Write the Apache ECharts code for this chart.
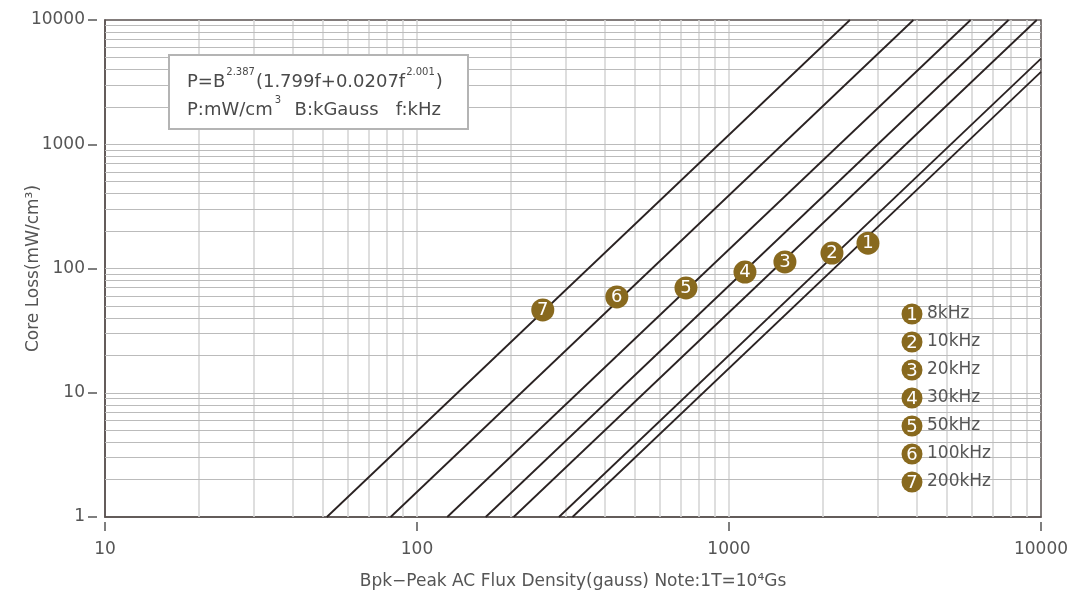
<!DOCTYPE html>
<html>
<head>
<meta charset="utf-8">
<script src="https://cdn.jsdelivr.net/npm/echarts@6/dist/echarts.min.js"></script>
<style>
html,body{margin:0;padding:0;background:#fff;}
#main{width:1071px;height:598px;}
</style>
</head>
<body>
<div id="main"></div>
<script>
// ---- data ----
const freqLabels = ['8kHz','10kHz','20kHz','30kHz','50kHz','100kHz','200kHz'];
const markerNums = ['1','2','3','4','5','6','7'];
// each loss line: start point (bottom edge, P = 1) and end point (right or top edge)
const lineStartB = [315, 285, 204, 166, 125, 82.3, 51.4];
const lineStartP = [1, 1, 1, 1, 1, 1, 1];
const lineEndB   = [10000, 10000, 9690, 7870, 5950, 3900, 2440];
const lineEndP   = [3830, 4890, 10000, 10000, 10000, 10000, 10000];
// numbered markers on the lines
const markerB = [2789, 2138, 1511, 1125, 728, 437, 253];
const markerP = [160, 133, 113, 93.7, 69.7, 59.0, 46.4];
// axes
const xTicks = [10, 100, 1000, 10000];
const yTicks = [1, 10, 100, 1000, 10000];
const gridMult = [2, 3, 4, 5, 6, 7, 8, 9];

const MARK = '#88691e';
const LINE = '#2a2222';
const TXT = '#555555';
const FONT = '"DejaVu Sans", "Liberation Sans", Arial, sans-serif';

function gridVals(ticks) {
  const out = [];
  for (let i = 0; i < ticks.length - 1; i++) {
    if (i > 0) out.push(ticks[i]);
    gridMult.forEach(m => out.push(ticks[i] * m));
  }
  return out;
}
const xGrid = gridVals(xTicks);
const yGrid = gridVals(yTicks);

const chart = echarts.init(document.getElementById('main'), null, {renderer: 'canvas'});

const series = [];
series.push({
  type: 'line', data: [[10, 1]], showSymbol: false, symbol: 'none', silent: true, z: 1,
  lineStyle: {opacity: 0},
  markLine: {
    silent: true, symbol: 'none', animation: false, z: 1,
    label: {show: false},
    data: xGrid.map(v => ({xAxis: v, lineStyle: {color: '#d6d6d6', width: 1.6, type: 'solid'}}))
      .concat(yGrid.map(v => ({yAxis: v, lineStyle: {color: '#bbbbbb', width: 1, type: 'solid'}})))
  }
});
for (let i = 0; i < freqLabels.length; i++) {
  series.push({
    type: 'line', name: freqLabels[i], z: 6, symbol: 'none', silent: true,
    data: [[lineStartB[i], lineStartP[i]], [lineEndB[i], lineEndP[i]]],
    lineStyle: {color: LINE, width: 1.8}
  });
}
series.push({
  type: 'scatter', z: 8, symbol: 'circle', symbolSize: 23, silent: true,
  itemStyle: {color: MARK, opacity: 1},
  data: markerB.map((b, i) => [b, markerP[i], markerNums[i]]),
  label: {
    show: true, position: 'inside', color: '#fff', fontSize: 18, fontFamily: FONT,
    formatter: p => p.value[2]
  }
});

const graphic = [{
  type: 'rect', z: 100, shape: {x: 169, y: 55, width: 299, height: 74},
  style: {fill: '#fff', stroke: '#b4b4b4', lineWidth: 2}
}, {
  type: 'text', z: 101, x: 187, y: 67,
  style: {
    text: '{n|P=B}{s|2.387}{n|(1.799f+0.0207f}{s|2.001}{n|)}',
    rich: {
      n: {fontSize: 18, fill: '#4a4a4a', fontFamily: FONT, lineHeight: 24, verticalAlign: 'bottom'},
      s: {fontSize: 10, fill: '#4a4a4a', fontFamily: FONT, lineHeight: 24, verticalAlign: 'top', padding: [0, 1, 0, 1]}
    }
  }
}, {
  type: 'text', z: 101, x: 187, y: 95,
  style: {
    text: '{n|P:mW/cm}{s|3}{n|  B:kGauss   f:kHz}',
    rich: {
      n: {fontSize: 18, fill: '#4a4a4a', fontFamily: FONT, lineHeight: 24, verticalAlign: 'bottom'},
      s: {fontSize: 10, fill: '#4a4a4a', fontFamily: FONT, lineHeight: 24, verticalAlign: 'top', padding: [0, 2, 0, 2]}
    }
  }
}];
freqLabels.forEach((f, i) => {
  const cy = 314 + 28 * i;
  graphic.push({type: 'circle', z: 100, shape: {cx: 912, cy: cy, r: 10.5}, style: {fill: MARK}});
  graphic.push({type: 'text', z: 101, x: 912, y: cy + 1,
    style: {text: markerNums[i], fill: '#fff', fontSize: 18, fontFamily: FONT, align: 'center', verticalAlign: 'middle'}});
  graphic.push({type: 'text', z: 101, x: 927, y: cy,
    style: {text: f, fill: TXT, fontSize: 17, fontFamily: FONT, align: 'left', verticalAlign: 'middle'}});
});

const option = {
  animation: false,
  backgroundColor: '#fff',
  grid: {left: 105, right: 30, top: 20, bottom: 81, show: true, borderColor: '#5a5250', borderWidth: 1.5,
         backgroundColor: 'transparent', containLabel: false, outerBoundsMode: 'none'},
  xAxis: [{
    type: 'log', logBase: 10, min: 10, max: 10000,
    name: 'Bpk\u2212Peak AC Flux Density(gauss) Note:1T=10\u2074Gs',
    nameLocation: 'middle', nameGap: 56,
    nameTextStyle: {color: TXT, fontSize: 17, fontFamily: FONT},
    axisLine: {show: true, lineStyle: {color: '#5a5250', width: 1.5}},
    axisTick: {show: false}, axisLabel: {show: false}, splitLine: {show: false}
  }, {
    type: 'log', logBase: 10, min: 10, max: 10000, position: 'bottom', offset: 5,
    axisLine: {show: false},
    axisTick: {show: true, length: 9, lineStyle: {color: '#555', width: 1.5}},
    axisLabel: {show: true, margin: 19, color: TXT, fontSize: 17, fontFamily: FONT, formatter: v => String(v)},
    splitLine: {show: false}
  }],
  yAxis: [{
    type: 'log', logBase: 10, min: 1, max: 10000,
    name: 'Core Loss(mW/cm\u00b3)', nameLocation: 'middle', nameGap: 63,
    nameTextStyle: {color: TXT, fontSize: 17, fontFamily: FONT},
    axisLine: {show: true, lineStyle: {color: '#5a5250', width: 1.5}},
    axisTick: {show: false}, axisLabel: {show: false}, splitLine: {show: false}
  }, {
    type: 'log', logBase: 10, min: 1, max: 10000, position: 'left', offset: 8,
    axisLine: {show: false},
    axisTick: {show: true, length: 9, lineStyle: {color: '#555', width: 1.5}},
    axisLabel: {show: true, margin: 12, color: TXT, fontSize: 17, fontFamily: FONT, formatter: v => String(v)},
    splitLine: {show: false}
  }],
  series: series,
  graphic: graphic
};
chart.setOption(option);
</script>
</body>
</html>
